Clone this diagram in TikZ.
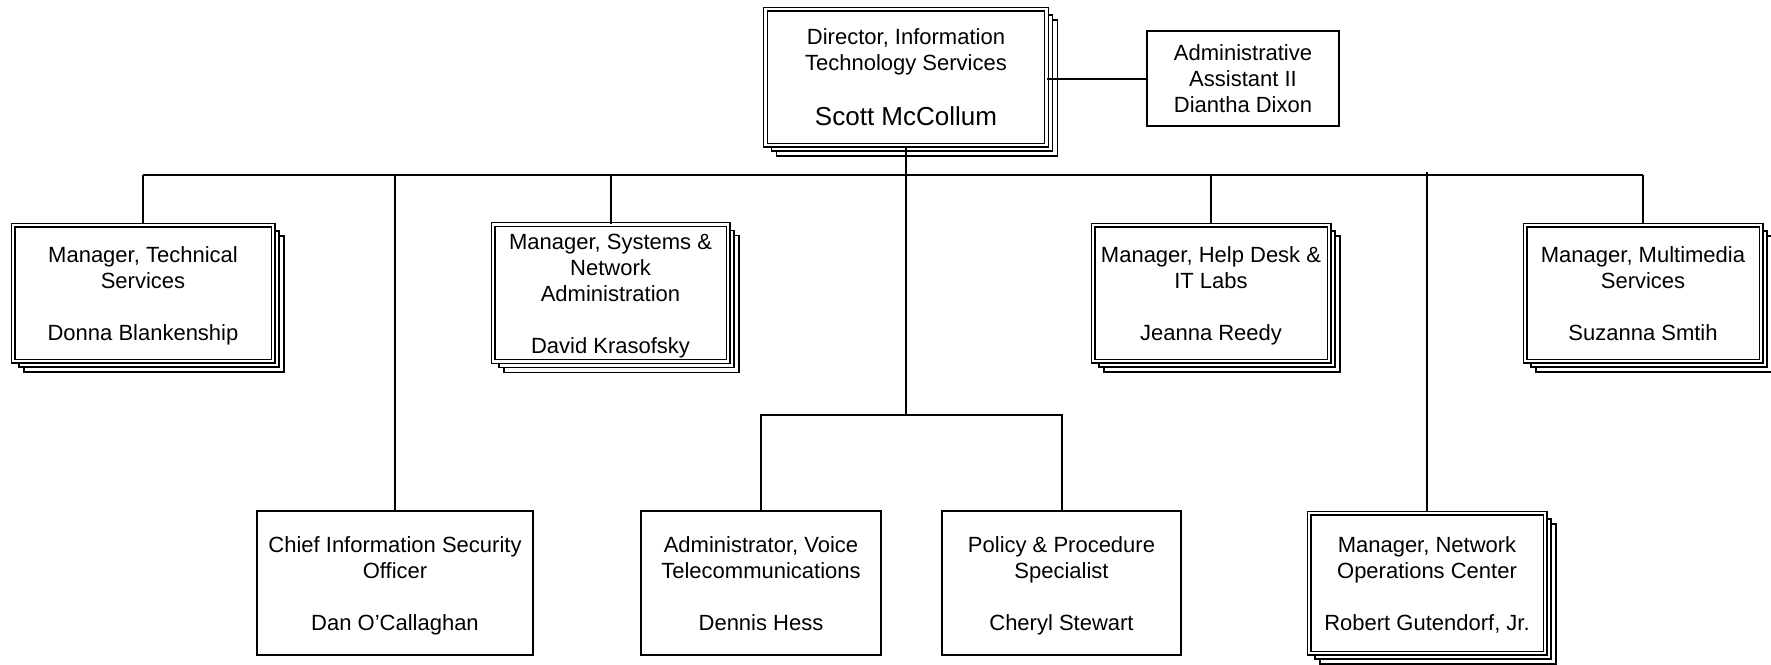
\documentclass[tikz,border=0pt]{standalone}
\usepackage{fontspec}
\setmainfont{Liberation Sans}
\usetikzlibrary{positioning}
\newcommand\boxfont{\fontsize{22}{26}\selectfont}
\newcommand\bigname{\fontsize{26}{30}\selectfont}
% struts so that every box sets its lines at the same height
\newcommand\topstrut{\rule{0pt}{25pt}}
\newcommand\botstrut{\rule[-8pt]{0pt}{8pt}}
\tikzset{
  plainbox/.style={draw, line width=1.8pt, fill=white, inner sep=0pt,
    align=center, font=\boxfont},
  stackbox/.style={draw, line width=1.2pt, double, double distance=2.6pt,
    fill=white, inner sep=0pt, align=center, font=\boxfont,
    preaction={draw, fill=white, line width=1.2pt,
      transform canvas={shift={(11pt,-11pt)}}},
    preaction={draw, fill=white, line width=1.2pt,
      transform canvas={shift={(6pt,-6pt)}}}},
  link/.style={line width=2pt}
}

\begin{document}
\begin{tikzpicture}[x=1pt, y=-1pt]
  \useasboundingbox (0,0) rectangle (1771,664);
  \coordinate (bus) at (0,175);
  \coordinate (subbus) at (0,415);
  % top
  \node[stackbox, minimum width=281pt, minimum height=136pt] (dir) at (906,77)
    {Director, Information\\Technology Services\\[29pt]\bigname Scott McCollum};
  \node[plainbox, minimum width=192pt, minimum height=95pt] (admin) at (1243,78.5)
    {Administrative\\Assistant II\\Diantha Dixon};
  % managers
  \node[stackbox, minimum width=260pt, minimum height=136pt] (tech) at (143,293)
    {\topstrut Manager, Technical\\Services\\[26pt]Donna Blankenship\botstrut};
  \node[stackbox, minimum width=235pt, minimum height=136pt] (sys) at (610.5,293)
    {\topstrut Manager, Systems \&\\Network\\Administration\\[26pt]David Krasofsky\botstrut};
  \node[stackbox, minimum width=236pt, minimum height=136pt] (help) at (1211,293)
    {\topstrut Manager, Help Desk \&\\IT Labs\\[26pt]Jeanna Reedy\botstrut};
  \node[stackbox, minimum width=236pt, minimum height=136pt] (media) at (1643,293)
    {\topstrut Manager, Multimedia\\Services\\[26pt]Suzanna Smtih\botstrut};
  % second row
  \node[plainbox, minimum width=276pt, minimum height=144pt] (ciso) at (395,583)
    {\topstrut Chief Information Security\\Officer\\[26pt]Dan O’Callaghan\botstrut};
  \node[plainbox, minimum width=240pt, minimum height=144pt] (voice) at (761,583)
    {\topstrut Administrator, Voice\\Telecommunications\\[26pt]Dennis Hess\botstrut};
  \node[plainbox, minimum width=239pt, minimum height=144pt] (policy) at (1061.5,583)
    {\topstrut Policy \& Procedure\\Specialist\\[26pt]Cheryl Stewart\botstrut};
  \node[stackbox, minimum width=236pt, minimum height=140pt] (noc) at (1427,583)
    {\topstrut Manager, Network\\Operations Center\\[26pt]Robert Gutendorf, Jr.\botstrut};
  % lines
  \draw[link] (dir.east |- admin) -- (admin.west);
  \draw[link] (dir.south) -- (dir.south |- subbus);
  \draw[link] (tech.north |- bus) -- (media.north |- bus);
  \foreach \n in {tech, sys, help, media, ciso}
    \draw[link] (\n.north) -- (\n.north |- bus);
  \draw[link] (noc.north) -- ([yshift=3pt]noc.north |- bus);
  \draw[link] (voice.north) |- (subbus -| dir.south) -| (policy.north);
\end{tikzpicture}
\end{document}
